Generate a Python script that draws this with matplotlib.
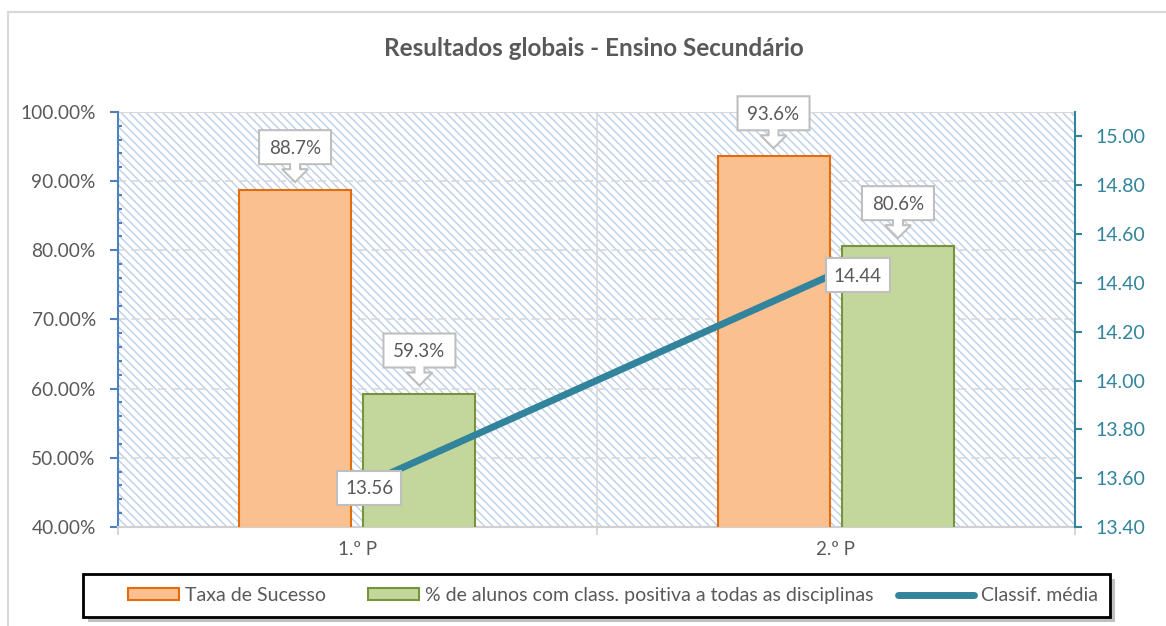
import matplotlib
matplotlib.use("Agg")
import matplotlib.pyplot as plt
import matplotlib.transforms as mtransforms
from matplotlib.patches import Rectangle, Polygon, Patch
from matplotlib.lines import Line2D
from matplotlib.ticker import FuncFormatter, MultipleLocator

# ---------------- data ----------------
periods = ["1.º P", "2.º P"]
taxa_sucesso = [88.7, 93.6]
pct_positiva = [59.3, 80.6]
classif_media = [13.56, 14.44]
series_names = ["Taxa de Sucesso",
                "% de alunos com class. positiva a todas as disciplinas",
                "Classif. média"]
title = "Resultados globais - Ensino Secundário"

# ---------------- style ----------------
plt.rcParams['font.family'] = ['Lato', 'DejaVu Sans']
plt.rcParams['hatch.linewidth'] = 1.0
GRAY_TXT = "#595959"
ORANGE_FACE, ORANGE_EDGE = "#fac090", "#e46c0a"
GREEN_FACE, GREEN_EDGE = "#c3d69b", "#77933c"
TEAL = "#31849b"
BLUE_AX = "#4f81bd"

W, H, DPI = 1166, 626, 100
fig = plt.figure(figsize=(W / DPI, H / DPI), dpi=DPI)

# outer chart border
fig.patches.append(Rectangle((8 / W, -0.1), 1.2, 1 - 12 / H + 0.1, transform=fig.transFigure,
                             facecolor="none", edgecolor="#d9d9d9", lw=1.5))

L, R, T, B = 118, 1075, 112, 527
ax = fig.add_axes([L / W, 1 - B / H, (R - L) / W, (B - T) / H])
ax2 = ax.twinx()

# hatched plot-area background
ax.patch.set_visible(False)
bg = Rectangle((0, 0), 1, 1, transform=ax.transAxes, facecolor="white",
               edgecolor="#bccfea", hatch="\\\\\\\\", lw=0, zorder=0)
ax.add_patch(bg)

x = list(range(len(periods)))
bw = 0.234
off = 0.13
xo = [i - off for i in x]
xg = [i + off for i in x]
ax.bar(xo, taxa_sucesso, width=bw, bottom=0, color=ORANGE_FACE, edgecolor=ORANGE_EDGE, lw=1.5, zorder=3)
ax.bar(xg, pct_positiva, width=bw, bottom=0, color=GREEN_FACE, edgecolor=GREEN_EDGE, lw=1.5, zorder=3)

ax.set_xlim(-0.5, len(periods) - 0.5)
ax.set_ylim(40, 100)
ax2.set_ylim(13.4, 15.1)

# gridlines
for v in range(50, 100, 10):
    ax.axhline(v, color="#d9d9d9", lw=1.2, dashes=(5, 3), zorder=1)
ax.axhline(100, color="#d9d9d9", lw=1.5, zorder=1)
for b in range(1, len(periods)):
    ax.axvline(b - 0.5, color="#d9d9d9", lw=1.2, zorder=1)

# x axis
ax.set_xticks(x)
ax.set_xticklabels(periods, color=GRAY_TXT, fontsize=13.5)
ax.set_xticks([i - 0.5 for i in range(len(periods) + 1)], minor=True)
ax.tick_params(axis="x", which="major", length=0, pad=10)
ax.tick_params(axis="x", which="minor", length=6, color="#d0d0d0", width=1.2)

# left axis
ax.yaxis.set_major_locator(MultipleLocator(10))
ax.yaxis.set_minor_locator(MultipleLocator(2))
ax.yaxis.set_major_formatter(FuncFormatter(lambda v, p: f"{v:.2f}%"))
ax.tick_params(axis="y", which="major", direction="out", length=6, width=1.5,
               color=BLUE_AX, labelcolor=GRAY_TXT, labelsize=13.8, pad=10)
ax.tick_params(axis="y", which="minor", direction="in", length=3, width=1.5, color=BLUE_AX)

# right axis
ax2.yaxis.set_major_locator(MultipleLocator(0.2))
ax2.yaxis.set_major_formatter(FuncFormatter(lambda v, p: f"{v:.2f}"))
ax2.tick_params(axis="y", which="major", direction="out", length=5, width=1.5,
                color=TEAL, labelcolor=TEAL, labelsize=14, pad=10)

for a in (ax, ax2):
    for s in a.spines.values():
        s.set_visible(False)
ax.spines["left"].set_visible(True)
ax.spines["left"].set_color(BLUE_AX)
ax.spines["left"].set_linewidth(1.5)
ax.spines["bottom"].set_visible(True)
ax.spines["bottom"].set_color("#d0d0d0")
ax.spines["bottom"].set_linewidth(1.5)
ax2.spines["right"].set_visible(True)
ax2.spines["right"].set_color(TEAL)
ax2.spines["right"].set_linewidth(1.5)

# line series
ax2.plot(x, classif_media, color=TEAL, lw=5, solid_capstyle="butt", zorder=5)


def callout(a, xd, yd, text, arrow=True, dx=0, dy=0, bw_px=72, bh_px=34):
    trans = mtransforms.Affine2D() + mtransforms.ScaledTranslation(xd, yd, a.transData)
    hw = bw_px / 2
    if arrow:
        tip, stem_h, head_h = 8, 5, 13
        b0 = tip + stem_h + head_h
        verts = [(-hw, b0), (-hw, b0 + bh_px), (hw, b0 + bh_px), (hw, b0),
                 (5, b0), (5, b0 - stem_h), (13, b0 - stem_h), (0, tip),
                 (-13, b0 - stem_h), (-5, b0 - stem_h), (-5, b0)]
        cy = b0 + bh_px / 2
        cx = 0
    else:
        cx, cy = dx, dy
        verts = [(cx - hw, cy - bh_px / 2), (cx - hw, cy + bh_px / 2),
                 (cx + hw, cy + bh_px / 2), (cx + hw, cy - bh_px / 2)]
    poly = Polygon(verts, closed=True, transform=trans, facecolor="white",
                   edgecolor="#bfbfbf", lw=1.5, zorder=8, clip_on=False)
    a.add_patch(poly)
    a.annotate(text, xy=(xd, yd), xytext=(cx, cy - 1), textcoords="offset pixels",
               ha="center", va="center", fontsize=13.5, color=GRAY_TXT, zorder=9,
               annotation_clip=False, clip_on=False)


for xi, v in zip(xo, taxa_sucesso):
    callout(ax, xi, v, f"{v:.1f}%")
for xi, v in zip(xg, pct_positiva):
    callout(ax, xi, v, f"{v:.1f}%")
line_offsets = [(12, 0), (22, -2)]
for xi, v, (ddx, ddy) in zip(x, classif_media, line_offsets):
    callout(ax2, xi, v, f"{v:.2f}", arrow=False, dx=ddx, dy=ddy, bw_px=64)

# title
fig.text(594 / W, 1 - 49 / H, title, ha="center", va="center", fontsize=17.5,
         fontweight="bold", color=GRAY_TXT)

# legend frame with shadow
LX0, LX1, LY0, LY1 = 83, 1110, 574, 617
fig.patches.append(Rectangle(((LX0 + 5) / W, 1 - (LY1 + 5) / H), (LX1 - LX0) / W, (LY1 - LY0) / H,
                             transform=fig.transFigure, facecolor="#a6a6a6", edgecolor="none", alpha=0.7))
fig.patches.append(Rectangle((LX0 / W, 1 - LY1 / H), (LX1 - LX0) / W, (LY1 - LY0) / H,
                             transform=fig.transFigure, facecolor="white", edgecolor="black", lw=2))

handles = [Patch(facecolor=ORANGE_FACE, edgecolor=ORANGE_EDGE, lw=1.5),
           Patch(facecolor=GREEN_FACE, edgecolor=GREEN_EDGE, lw=1.5),
           Line2D([0], [0], color=TEAL, lw=5, solid_capstyle="round")]
entry_x = [128, 368, 898]
handle_len = [2.6, 2.6, 3.9]
legs = []
for h, name, ex, hl in zip(handles, series_names, entry_x, handle_len):
    lg = fig.legend([h], [name], loc="center left",
                    bbox_to_anchor=(ex / W, 1 - (LY0 + LY1) / 2 / H),
                    frameon=False, fontsize=14, handlelength=hl, handleheight=0.57,
                    handletextpad=0.35, borderaxespad=0, borderpad=0, labelcolor=GRAY_TXT)
    legs.append(lg)

fig.savefig("out.png", dpi=DPI)
